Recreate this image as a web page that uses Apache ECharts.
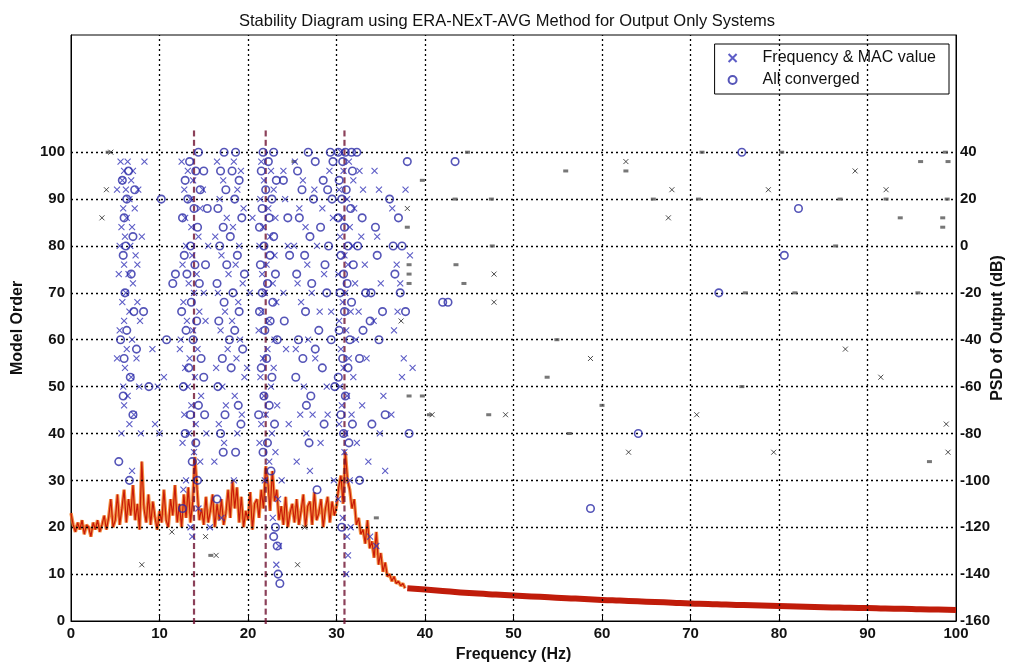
<!DOCTYPE html>
<html><head><meta charset="utf-8">
<script src="https://cdn.jsdelivr.net/npm/echarts@6/dist/echarts.min.js"></script>
<style>html,body{margin:0;padding:0;background:#fff}#c{width:1014px;height:666px}</style>
</head><body><div id="c"></div>
<script>
// ---- data ----
const orderGrid = [10,20,30,40,50,60,70,80,90,100];
const freqGrid = [10,20,30,40,50,60,70,80,90];

// Frequency & MAC value (blue x) [Hz, model order]
const freqMac = [
[5.6,98],[6.4,98],[6.0,96],[7.0,96],[5.8,94],[6.8,94],[5.2,92],[6.2,92],[7.6,92],[6.6,90],[5.9,88],[7.2,88],[6.3,86],[5.7,84],[6.9,84],[6.1,82],[8.0,82],[5.5,80],[6.7,80],[7.3,78],[6.0,76],[5.4,74],[6.5,74],[7.0,72],[6.2,70],[5.8,68],[7.5,68],[6.6,66],[6.0,64],[7.8,64],[5.5,62],[6.9,60],[6.3,58],[5.2,56],[7.4,56],[6.1,54],[6.8,52],[5.9,50],[7.7,50],[6.4,48],[6.0,46],[7.1,44],[6.6,42],[5.7,40],[7.9,40],[6.9,32],[7.5,76],[8.3,98],
[9.2,58],[9.8,50],[10.5,52],[10,40],[9.5,42],
[12.5,98],[13.2,96],[13.8,94],[12.8,92],[13.5,90],[14.6,88],[12.9,86],[13.6,84],[14.4,82],[13.0,80],[13.7,78],[12.6,76],[14.2,74],[13.3,72],[13.9,70],[12.7,68],[14.5,66],[13.1,64],[13.8,62],[12.4,60],[14.3,58],[13.4,56],[12.9,54],[14.0,52],[13.2,50],[14.7,48],[13.6,46],[12.8,44],[14.1,42],[13.3,40],[12.6,38],[13.9,36],[14.6,34],[13.0,30],[12.7,28],[14.4,24],[13.5,20],[13.7,18],[12.3,58],[15.2,64],[15.5,80],[14.9,92],[15.0,70],[15.3,40],[15.7,20],
[16.5,98],[17.2,94],[16.8,90],[17.6,86],[16.3,82],[17.0,78],[17.8,74],[16.6,70],[17.4,66],[16.9,62],[17.7,58],[16.4,54],[17.1,50],[17.5,46],[16.7,42],[17.3,38],[16.2,34],[17.0,22],[18.4,98],[19.2,96],[18.8,92],[19.5,88],[18.3,84],[19.0,80],[18.6,76],[19.4,72],[18.9,68],[18.2,64],[19.1,60],[18.7,56],[19.6,52],[18.5,48],[19.3,44],[18.8,40],[18.4,30],[19.9,54],[20.2,70],[20.5,86],
[21.5,98],[22.6,96],[21.8,94],[22.9,92],[21.4,90],[22.3,88],[23.1,86],[21.7,84],[22.5,82],[21.3,80],[23.0,78],[22.1,76],[21.6,74],[22.8,72],[21.9,70],[23.2,68],[21.5,66],[22.4,64],[21.2,62],[23.0,60],[22.2,58],[21.7,56],[22.9,54],[21.4,52],[22.6,50],[21.8,48],[23.3,46],[22.0,44],[21.5,42],[22.7,40],[21.3,38],[23.1,36],[22.4,34],[21.9,30],[23.4,26],[22.8,22],[23.5,16],[23.2,12],[24.0,96],[24.2,90],[24.5,80],[24.0,70],[24.3,58],[24.6,42],[23.8,30],
[25.3,98],[26.2,94],[25.8,88],[26.5,84],[25.2,80],[26.7,76],[25.6,72],[26.0,68],[26.8,60],[25.4,58],[26.3,50],[25.9,44],[26.6,40],[25.5,34],[27.5,92],[28.4,88],[27.8,80],[28.6,74],[27.2,70],[28.1,66],[27.6,56],[28.9,50],[27.3,44],[28.2,38],[27.0,32],[29.2,96],[29.6,86],[29.4,66],[29.0,44],[29.7,30],
[30.5,100],[31.4,98],[30.8,96],[31.9,94],[30.3,92],[31.2,90],[32.0,88],[30.6,86],[31.5,84],[30.4,82],[31.8,80],[30.9,78],[31.3,76],[30.2,74],[32.1,72],[31.0,70],[30.7,68],[31.6,66],[30.3,64],[31.1,62],[32.2,60],[30.5,58],[31.4,56],[30.8,54],[31.9,52],[30.4,50],[31.2,48],[30.6,46],[31.7,44],[30.3,42],[31.0,40],[32.3,38],[30.9,36],[31.5,30],[30.2,26],[30.7,22],[31.6,20],[31.2,18],[31.3,14],[31.1,10],[32.6,96],[33.0,92],[32.8,82],[33.2,76],[32.5,66],[33.4,56],[32.9,46],[33.6,34],[33.8,18],[34.3,96],[34.8,92],[34.6,82],[35.0,72],[34.2,64],[35.3,48],[34.9,40],[35.5,32],[34.5,16],[36.3,88],
[36.8,76],[37.2,72],[36.5,62],[37.4,52],[36.2,44],[38.3,78],[38.6,54],[37.6,56],[36.9,66],[37.8,92]
];

// All converged (blue circles)
const converged = [
[6.5,96],[5.8,94],[7.2,92],[6.3,90],[6.0,86],[7.0,82],[6.2,80],[5.9,78],[6.8,74],[6.1,70],[7.1,66],[6.3,62],[5.6,60],[7.4,58],[6.0,56],[6.7,52],[5.9,48],[7.0,44],[5.4,34],[6.6,30],[8.2,66],[8.8,50],
[10.2,90],[11.5,72],[10.8,60],[11.8,74],
[14.4,100],[13.4,98],[14.1,96],[12.9,94],[14.6,92],[13.2,90],[13.9,88],[12.6,86],[14.3,84],[13.5,80],[12.8,78],[14.0,76],[13.1,74],[14.5,72],[13.6,68],[12.5,66],[14.2,64],[13.0,62],[13.8,60],[14.7,56],[13.3,54],[12.7,50],[14.4,46],[13.5,44],[12.9,40],[14.1,38],[13.7,34],[14.3,30],[12.6,24],[15.0,96],[15.4,88],[15.2,76],[15.0,52],[15.1,44],
[17.3,100],[16.9,96],[17.5,92],[16.6,88],[17.2,84],[16.8,80],[17.6,76],[16.5,72],[17.3,68],[16.7,64],[17.9,60],[17.1,56],[16.6,50],[17.4,44],[16.9,40],[17.2,36],[16.5,26],[18.6,100],[18.2,96],[19.0,94],[18.5,90],[19.3,86],[18.0,82],[18.8,78],[19.6,74],[18.3,70],[19.0,66],[18.5,62],[19.4,58],[18.1,54],[18.9,46],[19.2,42],[18.6,36],
[21.7,100],[22.9,100],[22.3,98],[21.5,96],[23.2,94],[22.0,92],[22.7,90],[21.6,88],[22.4,86],[21.3,84],[22.9,82],[21.8,80],[22.5,78],[21.4,76],[23.1,74],[22.2,72],[21.6,70],[22.8,68],[21.3,66],[22.5,64],[21.9,62],[23.3,60],[22.1,56],[21.5,54],[22.7,52],[21.8,48],[22.4,46],[21.2,44],[23.0,42],[22.2,38],[21.7,36],[22.6,32],[23.1,20],[22.9,18],[23.3,16],[23.6,8],[23.4,10],[24.0,94],[24.5,86],[24.1,64],[24.7,78],
[26.8,100],[27.6,98],[25.6,96],[28.5,94],[26.1,92],[27.4,90],[25.8,86],[28.2,84],[27.0,82],[26.4,78],[28.7,76],[25.5,74],[27.2,72],[26.5,66],[28.0,62],[25.7,60],[27.6,58],[26.2,56],[28.4,54],[25.4,52],[27.1,48],[26.6,46],[28.6,42],[26.9,38],[27.8,28],[29.3,100],[29.6,98],[29.0,92],[29.5,90],[29.1,80],[28.9,70],[29.4,60],[29.8,50],
[30.2,100],[31.0,100],[31.7,100],[32.3,100],[30.7,98],[31.8,96],[30.3,94],[31.1,92],[30.6,90],[31.6,88],[30.2,86],[30.9,84],[31.3,80],[30.5,78],[31.9,76],[30.8,74],[31.2,72],[30.4,70],[31.7,68],[30.9,66],[30.3,62],[31.5,60],[30.7,56],[31.3,54],[30.2,52],[31.0,48],[30.5,44],[31.8,42],[30.8,40],[31.4,38],[32.4,80],[32.9,86],[33.3,70],[32.6,56],[33.0,62],[33.9,70],[34.4,84],[34.6,78],[35.2,66],[34.8,60],[35.5,44],[34.0,42],[33.8,64],[30.6,20],[32.6,30],
[37.0,86],[37.4,80],[38.0,98],[37.2,70],[37.8,66],[36.6,74],[36.4,80],[42.0,68],[42.6,68],[43.4,98],[38.2,40],[36.0,90],
[64.1,40],[75.8,100],[82.2,88],[80.6,78],[73.2,70],[58.7,24]
];

// other unstable estimates (black x, grey dots)
const otherX = [
[4.5,100],[4,92],[3.5,86],[8,12],[11.4,19],[15.2,18],[25.6,12],[16.4,14],[26.4,20],
[62.7,98],[67.9,92],[38,88],[67.5,86],[47.8,74],[47.8,68],[37.3,64],[58.7,56],[49.1,44],[63,36],
[88.6,96],[78.8,92],[92.1,92],[87.5,58],[91.5,52],[70.7,44],[79.4,36],[99.1,36],[98.9,42],[40.8,44]
];
const otherDot = [
[44.8,100],[39.7,94],[55.9,96],[62.7,96],[43.4,90],[47.5,90],[65.8,90],[38,84],[47.6,80],[38.2,76],[38.2,74],[38.2,72],[43.5,76],[44.4,72],[54.9,60],[53.8,52],[38.2,48],[39.7,48],[40.5,44],[47.2,44],[60,46],[56.3,40],
[71.3,100],[80.3,100],[96,98],[99.1,98],[98.8,100],[70.9,90],[86.9,90],[92.1,90],[99,90],[93.7,86],[98.5,86],[98.5,84],[86.4,80],[76.2,70],[81.8,70],[95.7,70],[75.8,50],[97,34],[15.8,14],[34.5,22],[25.2,98],[4.2,100]
];

// stable poles (columns)
const stableFreqs = [13.9, 22.0, 30.9];
const stableOrders = [0,2,4,6,8,10,12,14,16,18,20,22,24,26,28,30,32,34,36,38,40,42,44,46,48,50,52,54,56,58,60,62,64,66,68,70,72,74,76,78,80,82,84,86,88,90,92,94,96,98,100,102,104];

// PSD (dB), 0 to 37.75 Hz every 0.25 Hz
const psdStep = 0.25;
const psdLow = [
-114,-119,-122,-118, -121,-117,-123,-119, -120,-124,-118,-121, -117,-122,-119,-115,
-121,-116,-108,-120, -117,-106,-119,-112, -104,-118,-108,-115, -102,-117,-110,-121,
-92,-112,-118,-106, -119,-109,-116,-121, -113,-118,-104,-117, -120,-108,-115,-102,
-118,-110,-120,-106, -116,-103,-118,-109, -90,-104,-117,-112, -119,-107,-118,-113,
-106,-120,-110,-117, -108,-119,-114,-104, -116,-100,-112,-103, -118,-107,-120,-113,
-117,-105,-121,-110, -108,-116,-104,-112, -94,-101,-113,-96, -109,-104,-117,-111,
-119,-107,-120,-114, -110,-118,-108,-119, -113,-106,-120,-111, -109,-119,-105,-117,
-114,-108,-120,-112, -107,-118,-109,-115, -111,-103,-98,-110, -88,-100,-104,-112,
-108,-119,-116,-123, -121,-127,-117,-129, -126,-133,-122,-136, -131,-139,-135,-141,
-140,-143,-141,-144, -143,-145,-144,-146
];
// PSD tail, 38 to 100 Hz every 2 Hz
const tailFreqs = [38,40,42,44,46,48,50,52,54,56,58,60,62,64,66,68,70,72,74,76,78,80,82,84,86,88,90,92,94,96,98,100];
const psdTail = [-146,-146.6,-147.2,-147.8,-148.3,-148.7,-149.1,-149.5,-149.9,-150.3,-150.6,-151,-151.3,-151.6,-151.9,-152.2,-152.5,-152.7,-153,-153.2,-153.4,-153.6,-153.8,-154,-154.2,-154.4,-154.5,-154.7,-154.8,-155,-155.1,-155.3];

// ---- build ----
const psdLowGlow = psdLow.map((v,i)=>[i*psdStep, v]);
const psdLowLine = psdLow.map((v,i)=>[i*psdStep, v]);
const psdTailData = tailFreqs.map((f,i)=>[f, psdTail[i]]);
const stableData = [];
stableFreqs.forEach(f=>stableOrders.forEach(o=>stableData.push([f,o])));

const crossPath = 'path://M0,0L10,10M10,0L0,10';
const FONT = '"Liberation Sans", Arial, sans-serif';

const gridLines = [];
freqGrid.forEach(v=>gridLines.push({xAxis:v}));
orderGrid.forEach(v=>gridLines.push({yAxis:v}));

const labelStyle = {fontSize:15, fontWeight:'bold', color:'#111', fontFamily:FONT};
const nameStyle = {fontSize:16, fontWeight:'bold', color:'#111', fontFamily:FONT};

const chart = echarts.init(document.getElementById('c'));
chart.setOption({
  animation:false,
  backgroundColor:'#fff',
  textStyle:{fontFamily:FONT},
  title:{text:'Stability Diagram using ERA-NExT-AVG Method for Output Only Systems', left:'center', top:8,
    textStyle:{fontSize:16.5, fontWeight:'normal', color:'#111', fontFamily:FONT}},
  grid:{left:71, right:58, top:35, bottom:45, show:true, borderColor:'#000', borderWidth:1,
        containLabel:false, outerBoundsMode:'none'},
  legend:{
    data:['Frequency & MAC value','All converged'], orient:'vertical', right:65, top:44,
    backgroundColor:'#fff', borderColor:'#000', borderWidth:1, borderRadius:0,
    padding:[6,13,6,13], itemGap:6, itemWidth:50, itemHeight:8,
    textStyle:{fontSize:16, color:'#111', fontFamily:FONT}
  },
  xAxis:{type:'value', min:0, max:100, interval:10,
    name:'Frequency (Hz)', nameLocation:'middle', nameGap:26, nameTextStyle:nameStyle,
    axisLine:{lineStyle:{color:'#000'}}, axisTick:{inside:true, length:5, lineStyle:{color:'#000'}},
    axisLabel:Object.assign({margin:5}, labelStyle),
    splitLine:{show:false}},
  yAxis:[
    {type:'value', min:0, max:125, interval:10,
     name:'Model Order', nameLocation:'middle', nameGap:45, nameTextStyle:nameStyle,
     axisLine:{show:true, lineStyle:{color:'#000'}}, axisTick:{show:false},
     axisLabel:Object.assign({margin:6, formatter:v=> v>100 ? '' : v}, labelStyle),
     splitLine:{show:false}},
    {type:'value', min:-160, max:90, interval:20, position:'right',
     name:'PSD of Output (dB)', nameLocation:'middle', nameGap:34, nameMoveOverlap:false, nameTextStyle:nameStyle,
     axisLine:{show:true, lineStyle:{color:'#000'}}, axisTick:{show:false},
     axisLabel:Object.assign({margin:4, formatter:v=> v>40 ? '' : v}, labelStyle),
     splitLine:{show:false}}
  ],
  series:[
    {type:'line', name:'psdGlow', yAxisIndex:1, data:psdLowGlow, symbol:'none', z:2,
     lineStyle:{color:'#f07a20', width:3.4, opacity:0.85}},
    {type:'line', name:'psd', yAxisIndex:1, data:psdLowLine, symbol:'none', z:3,
     lineStyle:{color:'#c81a08', width:1.2}},
    {type:'line', name:'psdTail', yAxisIndex:1, data:psdTailData, symbol:'none', smooth:true, z:3,
     lineStyle:{color:'#c01c0a', width:6}},
    {type:'scatter', name:'stable', data:stableData, symbol:'rect', symbolSize:[2.2,6], z:4,
     itemStyle:{color:'#6e1030'}},
    {type:'scatter', name:'otherX', data:otherX, symbol:crossPath, symbolSize:5, z:5,
     itemStyle:{color:'#222', borderColor:'#222', borderWidth:1}},
    {type:'scatter', name:'otherDot', data:otherDot, symbol:'rect', symbolSize:[5,3], z:5,
     itemStyle:{color:'#555'},
     markLine:{silent:true, symbol:['none','none'], label:{show:false}, animation:false,
       lineStyle:{color:'#000', width:1.3, type:[2,3]}, data:gridLines}},
    {type:'scatter', name:'Frequency & MAC value', data:freqMac, symbol:crossPath, symbolSize:6, z:6,
     itemStyle:{color:'#3434b8', borderColor:'#3434b8', borderWidth:1.1}},
    {type:'scatter', name:'All converged', data:converged, symbol:'circle', symbolSize:7.5, z:7,
     itemStyle:{color:'rgba(255,255,255,0)', borderColor:'#2a2aa6', borderWidth:1.6}}
  ]
});
</script>
</body></html>
